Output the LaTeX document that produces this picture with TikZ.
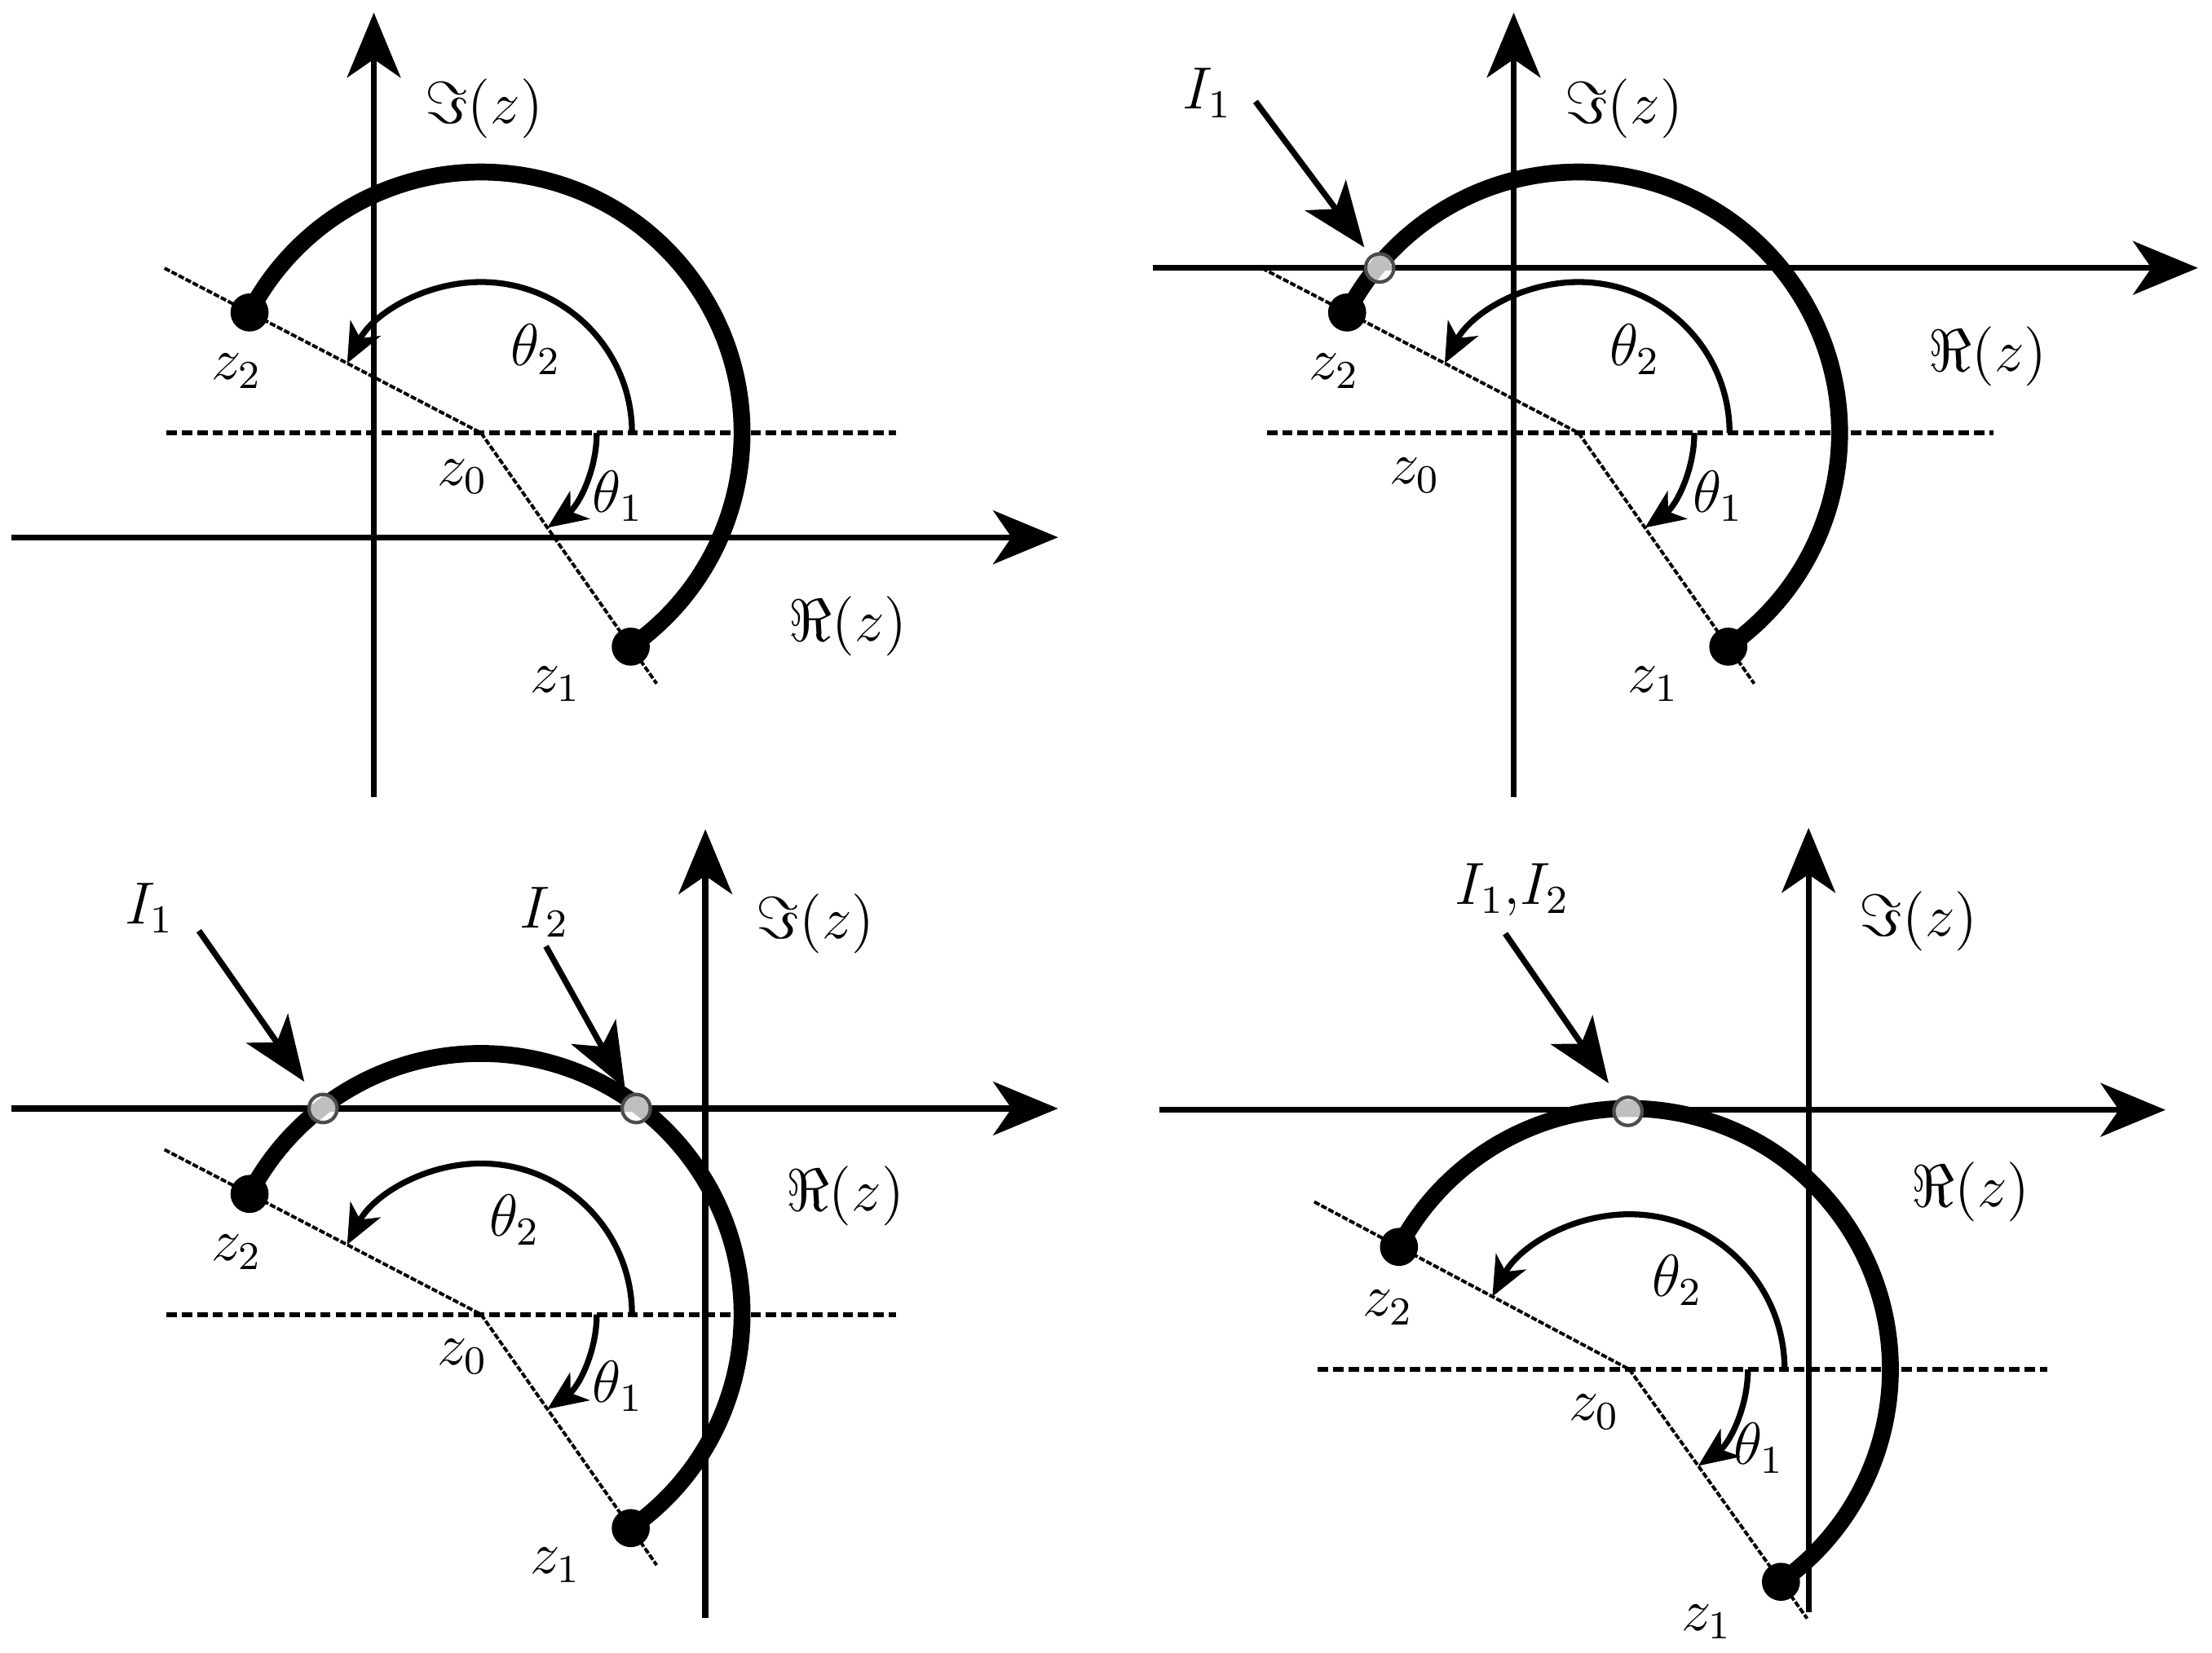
\documentclass[tikz,border=0pt]{standalone}
\usepackage{amsmath}
\usetikzlibrary{arrows.meta}
\usetikzlibrary{positioning}

\begin{document}
\begin{tikzpicture}[
			axisline/.style={line width=1.2pt, -{Stealth[length=4.6mm, width=3.8mm, inset=1.3mm]}},
			refline/.style={line width=1pt, dash pattern=on 2.1pt off 1pt},
			rayline/.style={line width=0.65pt, dash pattern=on 1.2pt off 0.4pt},
			contour/.style={line width=3.4pt},
			anglearc/.style={line width=1.2pt, -{Stealth[length=2.8mm, width=2.4mm, inset=0.8mm]}},
			pointer/.style={line width=1.2pt, -{Stealth[length=4.6mm, width=3.6mm, inset=1.2mm]}},
			endpoint/.style={circle, fill=black, inner sep=0pt, minimum size=2.7mm},
			crossing/.style={circle, draw=black!70, line width=0.7pt, fill=white, fill opacity=0.75, draw opacity=1, inner sep=0pt, minimum size=2mm},
			mathlabel/.style={inner sep=0pt, font=\large},
			]
			\useasboundingbox (0,0) rectangle (15.68,11.72);
			
			%Top left
			\coordinate (z0A) at (3.41,8.65);
			\coordinate (imlowA) at (2.65,6.07);
			\coordinate (imtopA) at (2.65,11.63);
			\coordinate (relowA) at (0.08,7.91);
			\coordinate (retopA) at (7.50,7.91);
			\coordinate (refleftA) at (1.18,8.65);
			\coordinate (refrightA) at (6.35,8.65);
			\coordinate (rayendA) at ([shift={(-55:2.17)}]z0A);
			\coordinate (raystartA) at ([shift={(152.5:2.53)}]z0A);
			\node[endpoint] (z1A) at ([shift={(-55:1.85)}]z0A) {};
			\node[endpoint] (z2A) at ([shift={(152.5:1.85)}]z0A) {};
			\node[mathlabel] (imlabelA) at (3.43,10.95) {$\Im(z)$};
			\node[mathlabel] (relabelA) at (6.01,7.28) {$\Re(z)$};
			\node[mathlabel] (z0labelA) at (3.28,8.34) {$z_0$};
			\node[mathlabel] (z1labelA) at (3.94,6.87) {$z_1$};
			\node[mathlabel] (z2labelA) at (1.68,9.09) {$z_2$};
			\node[mathlabel] (theta1A) at (4.38,8.20) {$\theta_1$};
			\node[mathlabel] (theta2A) at (3.80,9.24) {$\theta_2$};
			\draw[axisline] (imlowA) -- (imtopA);
			\draw[axisline] (relowA) -- (retopA);
			\draw[refline] (refleftA) -- (refrightA);
			\draw[rayline] (raystartA) -- (z0A) -- (rayendA);
			\draw[contour] (z1A.center) arc[start angle=-55, end angle=152.5, radius=1.85];
			\draw[anglearc] ([xshift=1.07cm]z0A) arc[start angle=0, end angle=152.5, radius=1.07];
			\draw[anglearc] ([xshift=0.82cm]z0A) arc[start angle=0, end angle=-55, radius=0.82];
			
			%Top right
			\coordinate (z0B) at (11.19,8.65);
			\coordinate (imlowB) at (10.73,6.07);
			\coordinate (imtopB) at (10.73,11.63);
			\coordinate (relowB) at (8.17,9.82);
			\coordinate (retopB) at (15.58,9.82);
			\coordinate (refleftB) at (8.98,8.65);
			\coordinate (refrightB) at (14.13,8.65);
			\coordinate (rayendB) at ([shift={(-55:2.17)}]z0B);
			\coordinate (raystartB) at ([shift={(152.5:2.53)}]z0B);
			\coordinate (pointerB) at (8.90,11.00);
			\node[endpoint] (z1B) at ([shift={(-55:1.85)}]z0B) {};
			\node[endpoint] (z2B) at ([shift={(152.5:1.85)}]z0B) {};
			\node[mathlabel] (imlabelB) at (11.51,10.95) {$\Im(z)$};
			\node[mathlabel] (relabelB) at (14.09,9.19) {$\Re(z)$};
			\node[mathlabel] (z0labelB) at (10.03,8.35) {$z_0$};
			\node[mathlabel] (z1labelB) at (11.72,6.87) {$z_1$};
			\node[mathlabel] (z2labelB) at (9.46,9.09) {$z_2$};
			\node[mathlabel] (theta1B) at (12.18,8.20) {$\theta_1$};
			\node[mathlabel] (theta2B) at (11.59,9.24) {$\theta_2$};
			\node[mathlabel] (i1labelB) at (8.56,11.06) {$I_1$};
			\draw[axisline] (imlowB) -- (imtopB);
			\draw[axisline] (relowB) -- (retopB);
			\draw[refline] (refleftB) -- (refrightB);
			\draw[rayline] (raystartB) -- (z0B) -- (rayendB);
			\draw[contour] (z1B.center) arc[start angle=-55, end angle=152.5, radius=1.85];
			\draw[anglearc] ([xshift=1.07cm]z0B) arc[start angle=0, end angle=152.5, radius=1.07];
			\draw[anglearc] ([xshift=0.82cm]z0B) arc[start angle=0, end angle=-55, radius=0.82];
			\node[crossing] (i1B) at (9.78,9.82) {};
			\draw[pointer, shorten >=0.07cm] (pointerB) -- (i1B);
			
			%Bottom left
			\coordinate (z0C) at (3.41,2.40);
			\coordinate (imlowC) at (5.00,0.25);
			\coordinate (imtopC) at (5.00,5.84);
			\coordinate (relowC) at (0.08,3.86);
			\coordinate (retopC) at (7.50,3.86);
			\coordinate (refleftC) at (1.18,2.40);
			\coordinate (refrightC) at (6.35,2.40);
			\coordinate (rayendC) at ([shift={(-55:2.17)}]z0C);
			\coordinate (raystartC) at ([shift={(152.5:2.53)}]z0C);
			\coordinate (pointerC) at (1.41,5.12);
			\coordinate (pointerD) at (3.87,5.01);
			\node[endpoint] (z1C) at ([shift={(-55:1.85)}]z0C) {};
			\node[endpoint] (z2C) at ([shift={(152.5:1.85)}]z0C) {};
			\node[mathlabel] (imlabelC) at (5.78,5.17) {$\Im(z)$};
			\node[mathlabel] (relabelC) at (5.99,3.24) {$\Re(z)$};
			\node[mathlabel] (z0labelC) at (3.28,2.10) {$z_0$};
			\node[mathlabel] (z1labelC) at (3.94,0.62) {$z_1$};
			\node[mathlabel] (z2labelC) at (1.68,2.84) {$z_2$};
			\node[mathlabel] (theta1C) at (4.38,1.89) {$\theta_1$};
			\node[mathlabel] (theta2C) at (3.65,3.07) {$\theta_2$};
			\node[mathlabel] (i1labelC) at (1.06,5.28) {$I_1$};
			\node[mathlabel] (i2labelC) at (3.86,5.25) {$I_2$};
			\draw[axisline] (imlowC) -- (imtopC);
			\draw[axisline] (relowC) -- (retopC);
			\draw[refline] (refleftC) -- (refrightC);
			\draw[rayline] (raystartC) -- (z0C) -- (rayendC);
			\draw[contour] (z1C.center) arc[start angle=-55, end angle=152.5, radius=1.85];
			\draw[anglearc] ([xshift=1.07cm]z0C) arc[start angle=0, end angle=152.5, radius=1.07];
			\draw[anglearc] ([xshift=0.82cm]z0C) arc[start angle=0, end angle=-55, radius=0.82];
			\node[crossing] (i1C) at (2.29,3.86) {};
			\node[crossing] (i2C) at (4.51,3.86) {};
			\draw[pointer, shorten >=0.12cm] (pointerC) -- (i1C);
			\draw[pointer, shorten >=0.05cm] (pointerD) -- (i2C);
			
			%Bottom right
			\coordinate (z0E) at (11.55,2.01);
			\coordinate (imlowE) at (12.82,0.29);
			\coordinate (imtopE) at (12.82,5.85);
			\coordinate (relowE) at (8.22,3.85);
			\coordinate (retopE) at (15.35,3.85);
			\coordinate (refleftE) at (9.34,2.01);
			\coordinate (refrightE) at (14.51,2.01);
			\coordinate (rayendE) at ([shift={(-54.5:2.17)}]z0E);
			\coordinate (raystartE) at ([shift={(152:2.53)}]z0E);
			\coordinate (pointerE) at (10.67,5.10);
			\node[endpoint] (z1E) at ([shift={(-54.5:1.85)}]z0E) {};
			\node[endpoint] (z2E) at ([shift={(152:1.85)}]z0E) {};
			\node[mathlabel] (imlabelE) at (13.60,5.19) {$\Im(z)$};
			\node[mathlabel] (relabelE) at (13.97,3.27) {$\Re(z)$};
			\node[mathlabel] (z0labelE) at (11.30,1.71) {$z_0$};
			\node[mathlabel] (z1labelE) at (12.10,0.22) {$z_1$};
			\node[mathlabel] (z2labelE) at (9.84,2.45) {$z_2$};
			\node[mathlabel] (theta1E) at (12.47,1.45) {$\theta_1$};
			\node[mathlabel] (theta2E) at (11.89,2.64) {$\theta_2$};
			\node[mathlabel] (i12labelE) at (10.72,5.41) {$I_1,\!I_2$};
			\draw[axisline] (imlowE) -- (imtopE);
			\draw[axisline] (relowE) -- (retopE);
			\draw[refline] (refleftE) -- (refrightE);
			\draw[rayline] (raystartE) -- (z0E) -- (rayendE);
			\draw[contour] (z1E.center) arc[start angle=-54.5, end angle=152, radius=1.85];
			\draw[anglearc] ([xshift=1.10cm]z0E) arc[start angle=0, end angle=152, radius=1.10];
			\draw[anglearc] ([xshift=0.84cm]z0E) arc[start angle=0, end angle=-54.5, radius=0.84];
			\node[crossing] (i12E) at (11.54,3.84) {};
			\draw[pointer, shorten >=0.13cm] (pointerE) -- (i12E);
\end{tikzpicture}
\end{document}
